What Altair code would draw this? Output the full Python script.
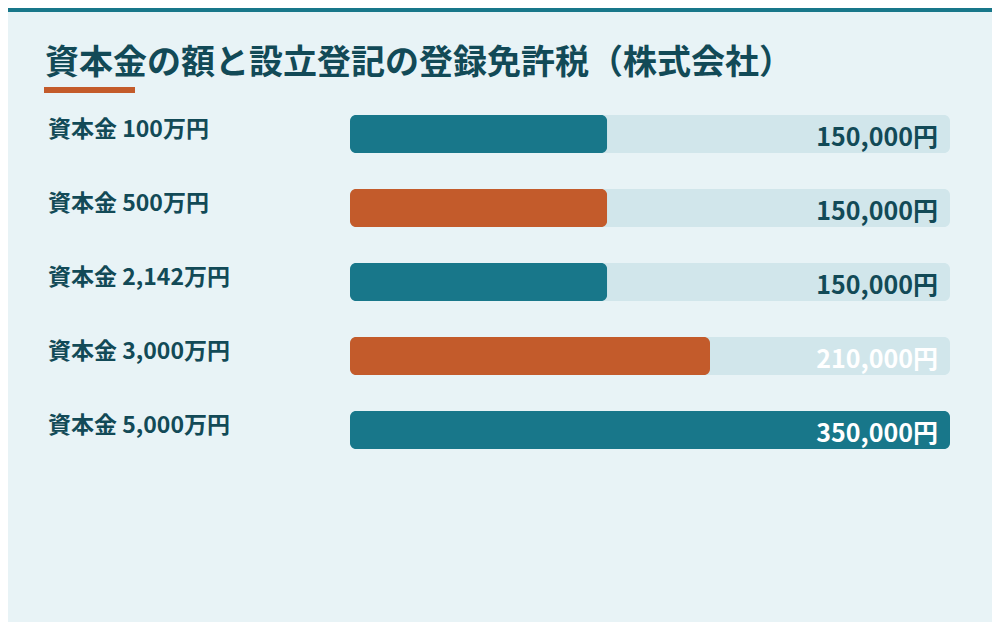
import altair as alt
import pandas as pd

# ---- data ----
labels = ["資本金 100万円", "資本金 500万円", "資本金 2,142万円", "資本金 3,000万円", "資本金 5,000万円"]
taxes = [150000, 150000, 150000, 210000, 350000]
max_tax = 350000
title_text = "資本金の額と設立登記の登録免許税（株式会社）"

# ---- style ----
W, H = 984, 614
BG = "#E8F3F6"
TEAL = "#18778A"
ORANGE = "#C35B2B"
TRACK = "#D1E6EB"
DARK = "#124A57"
FONT = "Noto Sans CJK JP"

df = pd.DataFrame({"label": labels, "tax": taxes})

y_enc = alt.Y(
    "label:N",
    sort=labels,
    scale=alt.Scale(domain=labels, range=[107, 441], paddingInner=36 / 74, paddingOuter=0),
    axis=None,
)
x_scale = alt.Scale(domain=[0, max_tax], range=[342, 942])

base = alt.Chart(df).transform_calculate(
    full=str(max_tax),
    txt="format(datum.tax, ',') + '円'",
)

track = base.mark_bar(cornerRadius=6, color=TRACK).encode(
    x=alt.X("full:Q", scale=x_scale, axis=None),
    y=y_enc,
)

bars = base.mark_bar(cornerRadius=6).encode(
    x=alt.X("tax:Q", scale=x_scale, axis=None),
    y=y_enc,
    color=alt.Color(
        "label:N",
        scale=alt.Scale(domain=labels, range=[TEAL, ORANGE, TEAL, ORANGE, TEAL]),
        legend=None,
    ),
)

values = base.mark_text(
    align="right", baseline="alphabetic", dx=-12, dy=12,
    font=FONT, fontSize=25, fontWeight="bold",
).encode(
    x=alt.X("full:Q", scale=x_scale, axis=None),
    y=y_enc,
    text="txt:N",
    color=alt.condition("datum.tax >= 200000", alt.value("#FFFFFF"), alt.value(DARK)),
)

row_labels = base.mark_text(
    align="left", baseline="alphabetic", dy=3,
    font=FONT, fontSize=23, fontWeight="bold", color=DARK,
).encode(
    x=alt.value(40),
    y=y_enc,
    text="label:N",
)

deco = alt.Chart(pd.DataFrame({"t": [title_text]}))

stripe = deco.mark_rect(color=TEAL).encode(
    x=alt.value(0), x2=alt.value(W), y=alt.value(0), y2=alt.value(4)
)
underline = deco.mark_rect(color=ORANGE).encode(
    x=alt.value(36), x2=alt.value(127), y=alt.value(79), y2=alt.value(85)
)
title = deco.mark_text(
    align="left", baseline="alphabetic",
    font=FONT, fontSize=34, fontWeight="bold", color=DARK,
).encode(x=alt.value(37), y=alt.value(66), text="t:N")

chart = alt.layer(stripe, underline, title, track, bars, values, row_labels).properties(
    width=W, height=H, background=BG, padding=0, autosize="none",
).configure_view(stroke=None)

chart.save("out.html", embed_options={"renderer": "svg", "actions": False})
